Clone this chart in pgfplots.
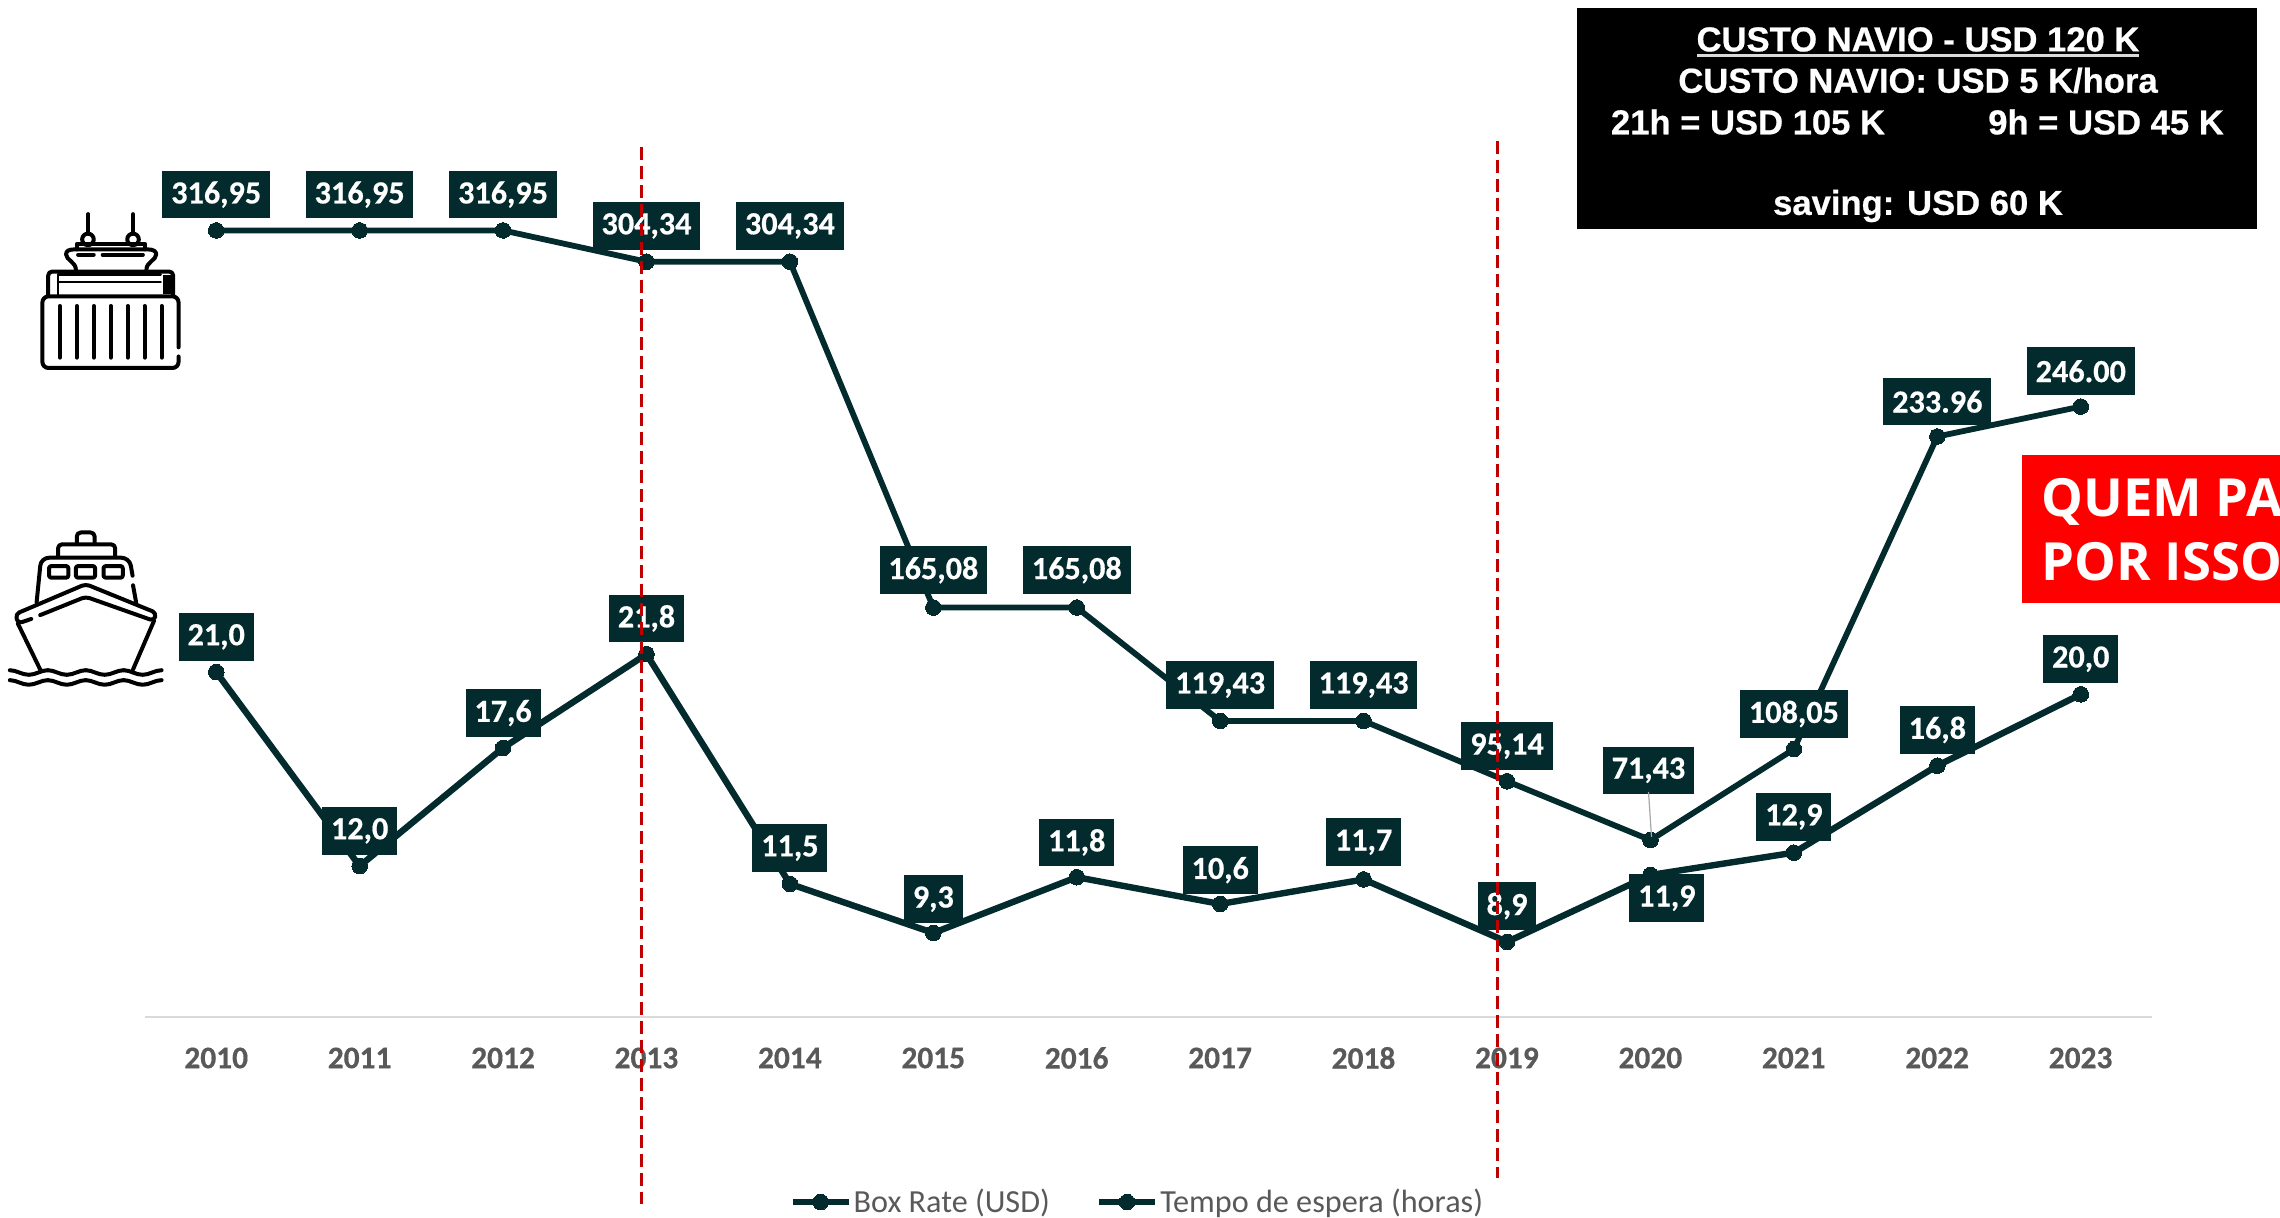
\documentclass[border=0pt]{standalone}
\usepackage{fontspec}
\setmainfont[BoldFeatures={FakeBold=0.5}]{Carlito}
\newfontfamily\lib[BoldFeatures={FakeBold=0.6}]{Liberation Sans}
\newfontfamily\osans{Open Sans}
\usepackage{pgfplots}
\usepackage{pgfplotstable}
\pgfplotsset{compat=1.18}
\definecolor{dk}{HTML}{032B2D}
\definecolor{tg}{HTML}{595959}
\definecolor{rd}{HTML}{C00000}
\pgfplotstableread{
year value label dy dx
2010 316.95 316,95 19 0
2011 316.95 316,95 19 0
2012 316.95 316,95 19 0
2013 304.34 304,34 19 0
2014 304.34 304,34 19 0
2015 165.08 165,08 19.8 0
2016 165.08 165,08 19.8 0
2017 119.43 119,43 19 0
2018 119.43 119,43 19 0
2019 95.14 95,14 18.6 0
2020 71.43 71,43 36 -1
2021 108.05 108,05 18.7 0
2022 233.96 233.96 18.5 0
2023 246.00 246.00 18.8 0
}\boxrate
\pgfplotstableread{
year value label dy dx
2010 21.0 21,0 18.7 0
2011 12.3 12,0 18.7 0
2012 17.6 17,6 18.5 0
2013 21.8 21,8 19 0
2014 11.5 11,5 19 0
2015 9.3 9,3 18 0
2016 11.8 11,8 18.5 0
2017 10.6 10,6 18 0
2018 11.7 11,7 19.7 0
2019 8.9 8,9 19 0
2020 11.9 11,9 -10.5 8.2
2021 12.9 12,9 19 0
2022 16.8 16,8 19 0
2023 20.0 20,0 18.7 0
}\espera
\pgfplotsset{
  base/.style={
    at={(72.25pt,100.25pt)}, anchor=south west, scale only axis,
    width=1004pt, height=500pt, xmin=2009.5, xmax=2023.5, clip=false,
    point meta=explicit symbolic,
    visualization depends on={\thisrow{dy} \as \labdy},
    visualization depends on={\thisrow{dx} \as \labdx},
    nodes near coords={\pgfplotspointmeta},
    every node near coord/.append style={
      anchor=center, yshift=\labdy pt - 1.1pt, xshift=\labdx pt, fill=dk, text=white,
      font=\fontsize{16.1pt}{18pt}\selectfont\bfseries,
      inner xsep=4.4pt, inner ysep=0pt, minimum height=23.75pt},
  },
  legend image code/.code={\draw[mark repeat=2,mark phase=2,#1] plot coordinates {(0pt,0pt)(14pt,0pt)(28pt,0pt)};},
}
\begin{document}
\begin{tikzpicture}
\path[clip, use as bounding box] (0pt,0pt) rectangle (1140pt,609pt);
\begin{axis}[base, ymin=0, ymax=402.7,
  axis x line*=bottom, axis y line=none,
  axis line style={draw=black!15, line width=1pt},
  xtick={2010,...,2023},
  xticklabels={2010,2011,2012,2013,2014,2015,2016,2017,2018,2019,2020,2021,2022,2023},
  major tick length=0pt,
  xticklabel style={anchor=center, yshift=-20.25pt, text=tg, fill=none, font=\fontsize{15.7pt}{18pt}\selectfont\bfseries},
]
\addplot[dk, line width=2.9pt, mark=*, mark size=3.9pt, mark options={solid, fill=dk, draw=dk, line width=0pt}]
  table[x=year, y=value, meta=label] {\boxrate};
\end{axis}
\begin{axis}[base, ymin=5.51, ymax=50.35, hide axis,
  legend columns=2,
  legend style={at={(0.4945,-0.1845)}, anchor=center, draw=none, fill=none, inner sep=0pt,
    font=\fontsize{16.1pt}{18pt}\selectfont, text=tg, nodes={inner xsep=1pt},
    /tikz/every even column/.append style={column sep=22pt}},
]
\addlegendimage{dk, line width=2.9pt, mark=*, mark size=3.9pt, mark options={solid, fill=dk, draw=dk, line width=0pt}}
\addlegendentry{Box Rate (USD)}
\addplot[dk, line width=3.2pt, mark=*, mark size=3.9pt, mark options={solid, fill=dk, draw=dk, line width=0pt}]
  table[x=year, y=value, meta=label] {\espera};
\addlegendentry{Tempo de espera (horas)}
\end{axis}
% annotations, in reference pixel coordinates
\begin{scope}[x=0.5pt,y=-0.5pt,yshift=609pt]
  \draw[black!35, line width=0.6pt] (1648.5,792) -- (1651.5,837);
  \draw[rd, line width=1.5pt, dash pattern=on 6.5pt off 3pt] (641.5,147) -- (641.5,1204);
  \draw[rd, line width=1.5pt, dash pattern=on 6.5pt off 3pt] (1497.5,141) -- (1497.5,1178);
  \fill[black] (1576.5,8.5) rectangle (2257,229);
  \node[text=white, font=\lib\fontsize{17.3pt}{19pt}\selectfont\bfseries] at (1918,39.5) {CUSTO NAVIO - USD 120 K};
  \draw[white!85!black, line width=1.3pt] (1697,55.5) -- (2139,55.5);
  \node[text=white, font=\lib\fontsize{17.3pt}{19pt}\selectfont\bfseries] at (1918,80.5) {CUSTO NAVIO: USD 5 K/hora};
  \node[text=white, font=\lib\fontsize{17.3pt}{19pt}\selectfont\bfseries] at (1748,122) {21h = USD 105 K};
  \node[text=white, font=\lib\fontsize{17.3pt}{19pt}\selectfont\bfseries] at (2106,122) {9h = USD 45 K};
  \node[text=white, font=\lib\fontsize{17.3pt}{19pt}\selectfont\bfseries] at (1918,206) {saving: USD 60 K};
  \fill[red] (2022,455) rectangle (2280,603);
  \node[anchor=west, inner sep=0pt, text=white, font=\osans\fontsize{26.3pt}{30pt}\selectfont\bfseries] at (2041,501.5) {QUEM PA};
  \node[anchor=west, inner sep=0pt, text=white, font=\osans\fontsize{26.3pt}{30pt}\selectfont\bfseries] at (2041,561.5) {POR ISSO};
\end{scope}
% icons, in the coordinates of the enlarged crop
\begin{scope}[x=0.2232pt,y=-0.1913pt,yshift=544pt,line width=2pt,line cap=round,line join=round,black]
  % container ship
  \draw[rounded corners=3pt] (400,568) -- (400,435) -- (95,435) -- (95,622) -- (400,622) -- (400,592);
  \foreach \x in {134,172,210,248,286,324,362} \draw (\x,460) -- (\x,595);
  \draw[rounded corners=2pt] (108,432) -- (108,370) -- (388,370) -- (388,432);
  \draw[line width=1.2pt] (130,378) -- (130,430) (130,378) -- (360,378) (130,397) -- (360,397);
  \fill (365,378) rectangle (382,430);
  \draw (170,365) .. controls (170,345) and (148,340) .. (148,325) .. controls (148,315) and (155,312) .. (170,312) -- (330,312) .. controls (345,312) and (350,318) .. (350,325) .. controls (350,340) and (328,345) .. (328,365);
  \draw (172,312) -- (172,298) -- (325,298) -- (325,312);
  \draw (175,326) -- (210,326) (230,326) -- (320,326);
  \draw (198,220) -- (198,270) (298,220) -- (298,270);
  \draw (197,286) ellipse [x radius=13, y radius=15];
  \draw (298,286) ellipse [x radius=13, y radius=15];
  % ship
  \draw[rounded corners=2pt] (172,1082) -- (172,1052) -- (212,1052) -- (212,1082);
  \draw[rounded corners=2pt] (130,1115) -- (130,1083) -- (258,1083) -- (258,1115);
  \draw[rounded corners=4pt] (82,1235) -- (92,1118) -- (290,1118) -- (297,1165);
  \draw (298,1190) -- (305,1235);
  \foreach \x in {110,170,232} \draw[rounded corners=1pt] (\x,1140) rectangle (\x+43,1170);
  \draw[rounded corners=2pt] (90,1268) -- (192,1220) -- (345,1283) -- (350,1262) -- (192,1187) -- (35,1265) -- (40,1290) -- (70,1278);
  \draw (40,1290) -- (90,1410) (345,1283) -- (298,1410);
  \foreach \y in {1412,1438} \foreach \k in {0,1,2,3} {
    \pgfmathsetmacro{\xa}{22+85*\k}
    \draw (\xa,\y) cos (\xa+21,\y+6) sin (\xa+42.5,\y+12) cos (\xa+64,\y+6) sin (\xa+85,\y);
  }
\end{scope}
\end{tikzpicture}
\end{document}
